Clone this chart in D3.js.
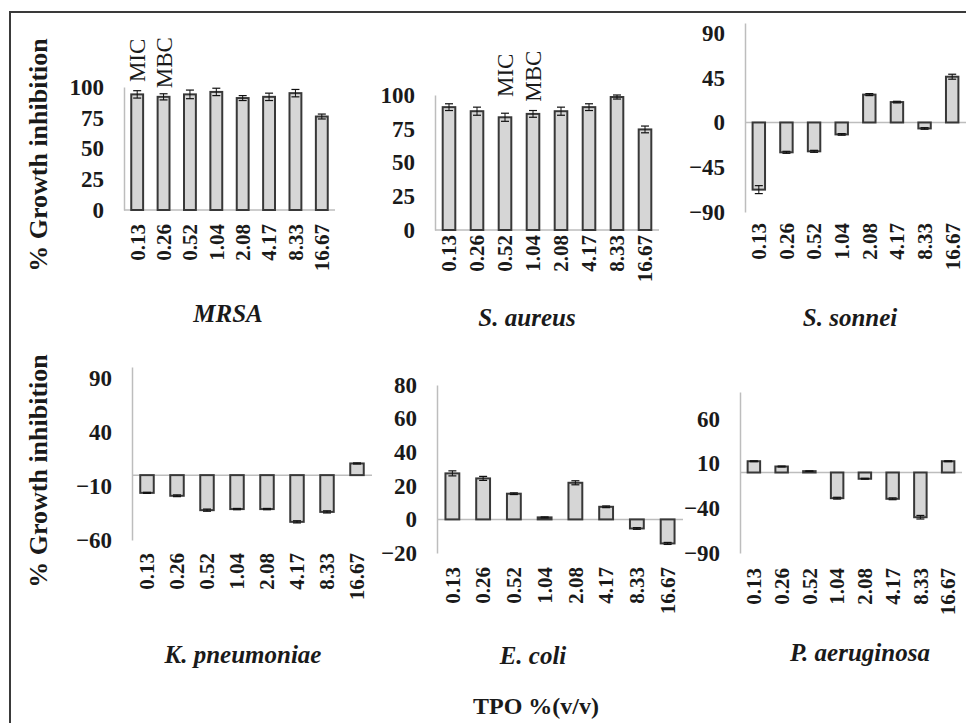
<!DOCTYPE html>
<html lang="en">
<head>
<meta charset="UTF-8">
<title>Growth inhibition by TPO</title>
<script src="https://cdn.jsdelivr.net/npm/d3@7"></script>
<style>
    body { margin: 0; background: #fff; }
    text { font-family: "Liberation Serif", "Times New Roman", serif; fill: #1a1a1a; }
    .tick text { font-weight: bold; font-size: 23px; }
    .xlab { font-weight: bold; font-size: 21px; }
    .title { font-weight: bold; font-style: italic; font-size: 25px; }
    .ytitle { font-weight: bold; font-size: 26px; }
    .note { font-size: 23px; }
</style>
</head>
<body>
<div id="container"></div>
<script>
// concentrations of TPO %(v/v)
const categories = ["0.13", "0.26", "0.52", "1.04", "2.08", "4.17", "8.33", "16.67"];

// % growth inhibition
const mrsa      = [94, 92, 94, 96, 91, 92, 95, 76];
const mrsaErr   = [3, 2.5, 3.5, 3, 2, 3, 3, 2];
const aureus    = [91, 88, 83.5, 86, 88, 91, 98.5, 74.5];
const aureusErr = [2.5, 3, 3, 2.5, 3, 2.5, 1.5, 2.5];
const sonnei    = [-67.5, -30, -29, -12, 28, 20.5, -6, 46];
const sonneiErr = [4, 1, 1, 0.8, 1, 0.8, 0.8, 2.5];
const kpneu     = [-16.4, -19.1, -32.4, -31.4, -31.4, -43.2, -34, 10.8];
const kpneuErr  = [0.5, 0.8, 1, 0.6, 0.6, 1, 1, 0.5];
const ecoli     = [27.4, 24.4, 15.3, 1.2, 21.8, 7.5, -5.4, -14.3];
const ecoliErr  = [1.5, 1.2, 0.5, 0.3, 1.2, 0.5, 0.5, 0.6];
const paer      = [12.6, 6.7, 1.5, -28.7, -7, -29.4, -50, 12.6];
const paerErr   = [0.5, 0.5, 0.3, 1, 0.5, 1, 2, 0.5];

// axis ticks and domains
const mrsaTicks   = [0, 25, 50, 75, 100];
const aureusTicks = [0, 25, 50, 75, 100];
const sonneiTicks = [-90, -45, 0, 45, 90];
const kpneuTicks  = [-60, -10, 40, 90];
const ecoliTicks  = [-20, 0, 20, 40, 60, 80];
const paerTicks   = [-90, -40, 10, 60];

// MIC / MBC markers (category, label, level in % units)
const mrsaNotes   = [["0.13", "MIC", 104], ["0.26", "MBC", 99]];
const aureusNotes = [["0.52", "MIC", 98.5], ["1.04", "MBC", 95]];

const width = 966, height = 723;

const panels = [
    {name: "MRSA", v: mrsa, e: mrsaErr, ticks: mrsaTicks, domain: [0, 100], notes: mrsaNotes,
     x: [124, 335], y: [210, 87], labTop: 224, tx: 228, ty: 322},
    {name: "S. aureus", v: aureus, e: aureusErr, ticks: aureusTicks, domain: [0, 100], notes: aureusNotes,
     x: [435, 659], y: [230, 95], labTop: 235, tx: 527, ty: 326},
    {name: "S. sonnei", v: sonnei, e: sonneiErr, ticks: sonneiTicks, domain: [-90, 100], notes: [],
     x: [745, 966], y: [212, 23], labTop: 223, tx: 850, ty: 326},
    {name: "K. pneumoniae", v: kpneu, e: kpneuErr, ticks: kpneuTicks, domain: [-60, 100], notes: [],
     x: [132, 372], y: [540, 367], labTop: 553, tx: 243, ty: 663},
    {name: "E. coli", v: ecoli, e: ecoliErr, ticks: ecoliTicks, domain: [-20, 80], notes: [],
     x: [437, 683], y: [553, 385], labTop: 567, tx: 533, ty: 664},
    {name: "P. aeruginosa", v: paer, e: paerErr, ticks: paerTicks, domain: [-90, 90], notes: [],
     x: [740, 962], y: [553, 392], labTop: 568, tx: 860, ty: 661}
];

const svg = d3.select("#container")
    .append("svg")
    .attr("width", width)
    .attr("height", height);

// frame (top and left edges only)
svg.append("path")
    .attr("d", `M10,${height} V12 H${width}`)
    .attr("fill", "none")
    .attr("stroke", "#3a3a3a")
    .attr("stroke-width", 2);

panels.forEach(p => {
    const g = svg.append("g");
    const xScale = d3.scaleBand().domain(categories).range(p.x)
        .paddingInner(0.55).paddingOuter(0.275);
    const yScale = d3.scaleLinear().domain(p.domain).range(p.y);
    const bw = xScale.bandwidth();
    const rows = categories.map((c, i) => ({c: c, v: p.v[i], e: p.e[i]}));

    // y axis
    const yAxis = g.append("g")
        .attr("transform", `translate(${p.x[0]},0)`)
        .call(d3.axisLeft(yScale).tickValues(p.ticks).tickSize(0).tickPadding(20));
    yAxis.select(".domain").attr("stroke", "#bdbdbd").attr("stroke-width", 1.5);
    yAxis.selectAll(".tick text").attr("fill", "#1a1a1a");

    // zero line
    g.append("line")
        .attr("x1", p.x[0]).attr("x2", p.x[1])
        .attr("y1", yScale(0)).attr("y2", yScale(0))
        .attr("stroke", "#bdbdbd").attr("stroke-width", 1.5);

    // bars
    g.selectAll(".bar").data(rows).enter().append("rect")
        .attr("class", "bar")
        .attr("x", d => xScale(d.c))
        .attr("width", bw)
        .attr("y", d => Math.min(yScale(d.v), yScale(0)))
        .attr("height", d => Math.abs(yScale(d.v) - yScale(0)))
        .attr("fill", "#d6d6d6")
        .attr("stroke", "#383838")
        .attr("stroke-width", 2);

    // error bars
    const err = g.selectAll(".err").data(rows).enter().append("g")
        .attr("transform", d => `translate(${xScale(d.c) + bw / 2},0)`);
    err.append("line")
        .attr("y1", d => yScale(d.v - d.e)).attr("y2", d => yScale(d.v + d.e))
        .attr("stroke", "#111").attr("stroke-width", 1);
    [-1, 1].forEach(s => {
        err.append("line")
            .attr("x1", -4).attr("x2", 4)
            .attr("y1", d => yScale(d.v + s * d.e)).attr("y2", d => yScale(d.v + s * d.e))
            .attr("stroke", "#111").attr("stroke-width", 1.2);
    });

    // category labels
    g.selectAll(".xlab").data(categories).enter().append("text")
        .attr("class", "xlab")
        .attr("transform", c => `translate(${xScale(c) + bw / 2},${p.labTop}) rotate(-90)`)
        .attr("text-anchor", "end")
        .attr("dy", "0.35em")
        .text(c => c);

    // MIC / MBC notes
    g.selectAll(".note").data(p.notes).enter().append("text")
        .attr("class", "note")
        .attr("transform", d => `translate(${xScale(d[0]) + bw / 2},${yScale(d[2])}) rotate(-90)`)
        .attr("dy", "0.35em")
        .text(d => d[1]);

    // organism name
    g.append("text")
        .attr("class", "title")
        .attr("x", p.tx).attr("y", p.ty)
        .attr("text-anchor", "middle")
        .text(p.name);
});

// shared axis titles
[155, 471].forEach(cy => {
    svg.append("text")
        .attr("class", "ytitle")
        .attr("transform", `translate(38,${cy}) rotate(-90)`)
        .attr("text-anchor", "middle")
        .attr("dy", "0.35em")
        .text("% Growth inhibition");
});

svg.append("text")
    .attr("class", "ytitle")
    .attr("x", 536).attr("y", 714)
    .attr("text-anchor", "middle")
    .style("font-size", "24px")
    .text("TPO %(v/v)");
</script>
</body>
</html>
